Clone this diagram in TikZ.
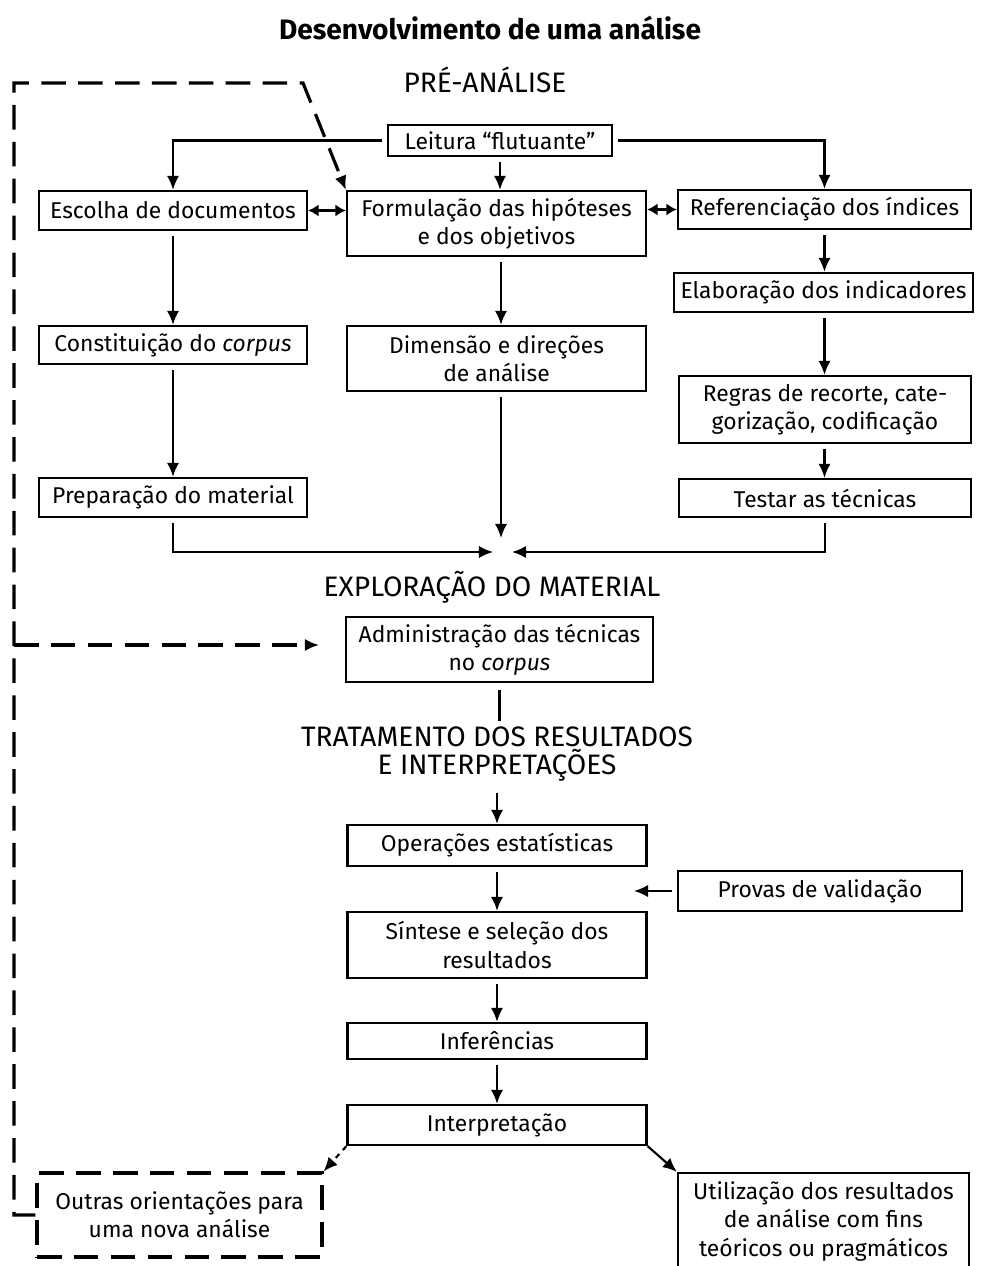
\documentclass[tikz,border=0pt]{standalone}
\usepackage{fontspec}
\setmainfont{Fira Sans}
\usetikzlibrary{arrows.meta,positioning,calc}

\tikzset{
  caixa/.style={draw,line width=1.3pt,align=center,inner sep=2pt,
    font=\fontsize{13}{16}\selectfont},
  sz/.style 2 args={minimum width=#1*0.02cm,minimum height=#2*0.02cm},
  etapa/.style={align=center,font=\fontsize{16}{16}\selectfont},
  seta/.style={line width=1.2pt,shorten <=3pt,-{Latex[length=8pt,width=7pt]}},
  seta2/.style={line width=1.2pt,{Latex[length=6pt,width=7pt]}-{Latex[length=6pt,width=7pt]}},
  retorno/.style={line width=1.8pt,dash pattern=on 14pt off 7pt}
}

\begin{document}
\begin{tikzpicture}[x=0.02cm,y=-0.02cm]

\useasboundingbox (0,0) rectangle (981,1266);

% Title
\node[font=\bfseries\fontsize{16}{18}\selectfont] (titulo) at (490,28)
{Desenvolvimento de uma análise};

\node[etapa] (pre) at (485,80) {PRÉ-ANÁLISE};

\node[caixa,sz={224}{31}] (lei) at (500,140.5) {Leitura “flutuante”};
\node[caixa,sz={268}{39}] (esc) at (173,210.5) {Escolha de documentos};
\node[caixa,sz={299}{65}] (form) at (496.5,223.5) {Formulação das hipóteses\\e dos objetivos};
\node[caixa,sz={293}{39}] (ref) at (824.5,209.5) {Referenciação dos índices};
\node[caixa,sz={299}{39}] (ela) at (823.5,292.5) {Elaboração dos indicadores};
\node[caixa,sz={268}{38}] (cons) at (173,345) {Constituição do \textit{corpus}};
\node[caixa,sz={299}{65}] (dim) at (496.5,358.5) {Dimensão e direções\\de análise};
\node[caixa,sz={292}{67}] (reg) at (825,409.5) {Regras de recorte, cate-\\gorização, codificação};
\node[caixa,sz={268}{39}] (prep) at (173,497.5) {Preparação do material};
\node[caixa,sz={292}{38}] (tes) at (825,498) {Testar as técnicas};

% exploracao
\node[etapa] (exp) at (492,587) {EXPLORAÇÃO DO MATERIAL};
\node[caixa,sz={307}{65}] (adm) at (499.5,649.5) {Administração das técnicas\\no \textit{corpus}};

% tratamento
\node[etapa] (trat) at (497,754) {TRATAMENTO DOS RESULTADOS\\E INTERPRETAÇÕES};
\node[caixa,sz={299}{41}] (ope) at (497,845.5) {Operações estatísticas};
\node[caixa,sz={284}{40}] (pro) at (820,891) {Provas de validação};
\node[caixa,sz={299}{66}] (sin) at (497,945) {Síntese e seleção dos\\resultados};
\node[caixa,sz={299}{36}] (inf) at (497,1041) {Inferências};
\node[caixa,sz={299}{40}] (int) at (497,1125) {Interpretação};
\node[caixa,retorno,sz={285}{84}] (out) at (179.5,1215)
{Outras orientações para\\uma nova análise};
\node[caixa,sz={291}{97}] (uti) at (823.5,1221.5)
{Utilização dos resultados\\de análise com fins\\teóricos ou pragmáticos};

\coordinate (juE) at (493,552);
\coordinate (juN) at (501,538);
\coordinate (juD) at (512,552);
\coordinate (proF) at (634,891);
\coordinate (retA) at (14,83);
\coordinate (retB) at (303,83);
\coordinate (retC) at (14,645);
\coordinate (admE) at (319,645);

% pre-analise
\draw[seta] (lei.west) -| (esc.north);
\draw[seta] (lei.east) -| (ref.north);
\draw[seta] (lei.south) -- (lei.south |- form.north);
\draw[seta2] (esc.east) -- (esc.east -| form.west);
\draw[seta2] (ref.west -| form.east) -- (ref.west);
\draw[seta] (esc.south) -- (cons.north);
\draw[seta] (cons.south) -- (prep.north);
\draw[seta] (juN |- form.south) -- (juN |- dim.north);
\draw[seta] (ref.south) -- (ref.south |- ela.north);
\draw[seta] (ref.south |- ela.south) -- (ref.south |- reg.north);
\draw[seta] (ref.south |- reg.south) -- (ref.south |- tes.north);
\draw[seta] (prep.south) |- (juE);
\draw[seta] (juN |- dim.south) -- (juN);
\draw[seta] (tes.south) |- (juD);

% exploracao e tratamento
\draw[line width=1.2pt,shorten <=4pt] (adm.south) -- (adm.south |- trat.north);
\draw[seta] (trat.south) -- (ope.north);
\draw[seta] (ope.south) -- (sin.north);
\draw[seta] (pro.west) -- (proF);
\draw[seta] (sin.south) -- (inf.north);
\draw[seta] (inf.south) -- (int.north);
\draw[seta,shorten <=0pt,dashed] (int.south west) -- (out.north east);
\draw[seta,shorten <=0pt] (int.south east) -- (uti.north west);

% retorno
\draw[retorno,-{Latex[length=8pt,width=7pt]}] (out.west) -| (retA) -- (retB) -- (form.north west);
\draw[retorno,-{Latex[length=8pt,width=7pt]}] (retC) -- (admE);

\end{tikzpicture}
\end{document}
